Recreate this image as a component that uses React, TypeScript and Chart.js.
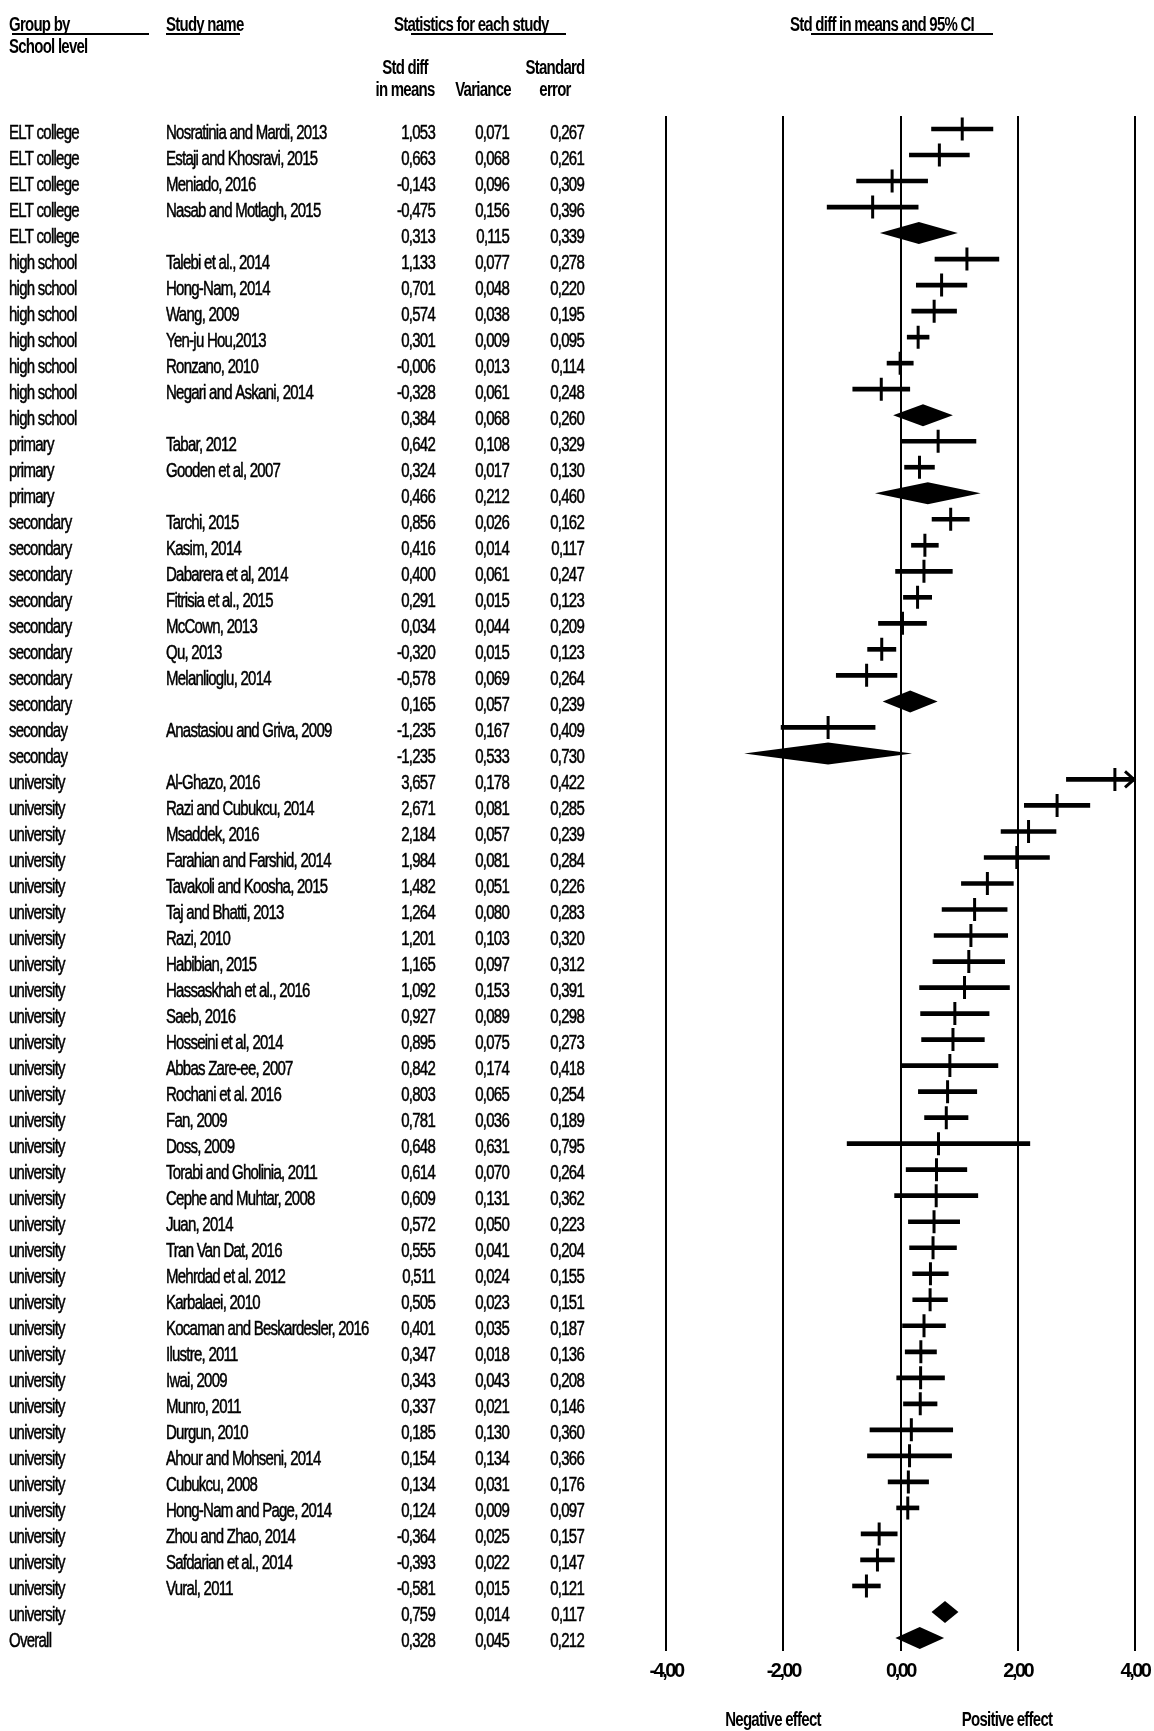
import React, { useEffect, useRef } from 'react';
import { Chart, registerables } from 'chart.js';

Chart.register(...registerables);

// ---------------- DATA ----------------
const groups: string[] = [
  'ELT college', 'ELT college', 'ELT college', 'ELT college', 'ELT college',
  'high school', 'high school', 'high school', 'high school', 'high school', 'high school', 'high school',
  'primary', 'primary', 'primary',
  'secondary', 'secondary', 'secondary', 'secondary', 'secondary', 'secondary', 'secondary', 'secondary',
  'seconday', 'seconday',
  'university', 'university', 'university', 'university', 'university', 'university', 'university', 'university',
  'university', 'university', 'university', 'university', 'university', 'university', 'university', 'university',
  'university', 'university', 'university', 'university', 'university', 'university', 'university', 'university',
  'university', 'university', 'university', 'university', 'university', 'university', 'university', 'university',
  'university',
  'Overall',
];

const studyNames: string[] = [
  'Nosratinia and Mardi, 2013', 'Estaji and Khosravi, 2015', 'Meniado, 2016', 'Nasab and Motlagh, 2015', '',
  'Talebi et al., 2014', 'Hong-Nam, 2014', 'Wang, 2009', 'Yen-ju Hou,2013', 'Ronzano, 2010', 'Negari and Askani, 2014', '',
  'Tabar, 2012', 'Gooden et al, 2007', '',
  'Tarchi, 2015', 'Kasim, 2014', 'Dabarera et al, 2014', 'Fitrisia et al., 2015', 'McCown, 2013', 'Qu, 2013', 'Melanlioglu, 2014', '',
  'Anastasiou and Griva, 2009', '',
  'Al-Ghazo, 2016', 'Razi and Cubukcu, 2014', 'Msaddek, 2016', 'Farahian and Farshid, 2014', 'Tavakoli and Koosha, 2015',
  'Taj and Bhatti, 2013', 'Razi, 2010', 'Habibian, 2015', 'Hassaskhah et al., 2016', 'Saeb, 2016', 'Hosseini et al, 2014',
  'Abbas Zare-ee, 2007', 'Rochani et al. 2016', 'Fan, 2009', 'Doss, 2009', 'Torabi and Gholinia, 2011', 'Cephe and Muhtar, 2008',
  'Juan, 2014', 'Tran Van Dat, 2016', 'Mehrdad et al. 2012', 'Karbalaei, 2010', 'Kocaman and Beskardesler, 2016', 'Ilustre, 2011',
  'Iwai, 2009', 'Munro, 2011', 'Durgun, 2010', 'Ahour and Mohseni, 2014', 'Cubukcu, 2008', 'Hong-Nam and Page, 2014',
  'Zhou and Zhao, 2014', 'Safdarian et al., 2014', 'Vural, 2011', '',
  '',
];

const stdDiff: number[] = [
  1.053, 0.663, -0.143, -0.475, 0.313,
  1.133, 0.701, 0.574, 0.301, -0.006, -0.328, 0.384,
  0.642, 0.324, 0.466,
  0.856, 0.416, 0.400, 0.291, 0.034, -0.320, -0.578, 0.165,
  -1.235, -1.235,
  3.657, 2.671, 2.184, 1.984, 1.482, 1.264, 1.201, 1.165, 1.092, 0.927, 0.895, 0.842, 0.803, 0.781, 0.648, 0.614,
  0.609, 0.572, 0.555, 0.511, 0.505, 0.401, 0.347, 0.343, 0.337, 0.185, 0.154, 0.134, 0.124, -0.364, -0.393, -0.581,
  0.759,
  0.328,
];

const variances: number[] = [
  0.071, 0.068, 0.096, 0.156, 0.115,
  0.077, 0.048, 0.038, 0.009, 0.013, 0.061, 0.068,
  0.108, 0.017, 0.212,
  0.026, 0.014, 0.061, 0.015, 0.044, 0.015, 0.069, 0.057,
  0.167, 0.533,
  0.178, 0.081, 0.057, 0.081, 0.051, 0.080, 0.103, 0.097, 0.153, 0.089, 0.075, 0.174, 0.065, 0.036, 0.631, 0.070,
  0.131, 0.050, 0.041, 0.024, 0.023, 0.035, 0.018, 0.043, 0.021, 0.130, 0.134, 0.031, 0.009, 0.025, 0.022, 0.015,
  0.014,
  0.045,
];

const stdErrors: number[] = [
  0.267, 0.261, 0.309, 0.396, 0.339,
  0.278, 0.220, 0.195, 0.095, 0.114, 0.248, 0.260,
  0.329, 0.130, 0.460,
  0.162, 0.117, 0.247, 0.123, 0.209, 0.123, 0.264, 0.239,
  0.409, 0.730,
  0.422, 0.285, 0.239, 0.284, 0.226, 0.283, 0.320, 0.312, 0.391, 0.298, 0.273, 0.418, 0.254, 0.189, 0.795, 0.264,
  0.362, 0.223, 0.204, 0.155, 0.151, 0.187, 0.136, 0.208, 0.146, 0.360, 0.366, 0.176, 0.097, 0.157, 0.147, 0.121,
  0.117,
  0.212,
];

const xTickValues: number[] = [-4, -2, 0, 2, 4];
const xTickLabels: string[] = ['-4,00', '-2,00', '0,00', '2,00', '4,00'];

// ---------------- DERIVED ----------------
const Z = 1.96;
const X_MIN = -4;
const X_MAX = 4;
const rowIds = groups.map((_, i) => String(i));
const isSummary = studyNames.map((n) => n === '');
const lower = stdDiff.map((v, i) => v - Z * stdErrors[i]);
const upper = stdDiff.map((v, i) => v + Z * stdErrors[i]);
const fmt = (v: number) => v.toFixed(3).replace('.', ',');

const FAMILY = '"Liberation Sans", Arial, sans-serif';
const FONT_SIZE = 20;
const SX = 0.75; // horizontal squeeze of the narrow typeface
const SPACING = '-1px';

// columns (pixel layout)
const COL_GROUP = 9;
const COL_STUDY = 166;
const COL_SMD = 435;
const COL_VAR = 509;
const COL_SE = 584;

function drawText(
  ctx: CanvasRenderingContext2D,
  text: string,
  x: number,
  y: number,
  align: CanvasTextAlign,
  bold = false
) {
  ctx.save();
  ctx.font = `${bold ? 'bold ' : ''}${FONT_SIZE}px ${FAMILY}`;
  (ctx as any).letterSpacing = SPACING;
  ctx.textAlign = align;
  ctx.textBaseline = 'alphabetic';
  ctx.fillStyle = '#000';
  ctx.strokeStyle = '#000';
  ctx.lineWidth = 0.5;
  ctx.translate(x, y);
  ctx.scale(SX, 1);
  ctx.fillText(text, 0, 0);
  if (!bold) ctx.strokeText(text, 0, 0);
  ctx.restore();
}

const tablePlugin = {
  id: 'forestTable',
  beforeDraw(chart: any) {
    const ctx = chart.ctx;
    ctx.save();
    ctx.fillStyle = '#ffffff';
    ctx.fillRect(0, 0, chart.width, chart.height);
    ctx.restore();
    (ctx as any).letterSpacing = '-2.5px';
  },
  afterDraw(chart: any) {
    const ctx = chart.ctx as CanvasRenderingContext2D;
    const ys = chart.scales.y;
    for (let i = 0; i < groups.length; i++) {
      const py = ys.getPixelForValue(i) + 9.5;
      drawText(ctx, groups[i], COL_GROUP, py, 'left');
      if (studyNames[i]) drawText(ctx, studyNames[i], COL_STUDY, py, 'left');
      drawText(ctx, fmt(stdDiff[i]), COL_SMD, py, 'right');
      drawText(ctx, fmt(variances[i]), COL_VAR, py, 'right');
      drawText(ctx, fmt(stdErrors[i]), COL_SE, py, 'right');
    }

    // headers
    drawText(ctx, 'Group by', COL_GROUP, 31, 'left', true);
    drawText(ctx, 'School level', COL_GROUP, 53, 'left', true);
    drawText(ctx, 'Study name', COL_STUDY, 31, 'left', true);
    drawText(ctx, 'Statistics for each study', 394, 31, 'left', true);
    drawText(ctx, 'Std diff in means and 95% CI', 790, 31, 'left', true);
    drawText(ctx, 'Std diff', 405, 74, 'center', true);
    drawText(ctx, 'in means', 405, 96, 'center', true);
    drawText(ctx, 'Variance', 483, 96, 'center', true);
    drawText(ctx, 'Standard', 555, 74, 'center', true);
    drawText(ctx, 'error', 555, 96, 'center', true);
    drawText(ctx, 'Negative effect', 773, 1726, 'center', true);
    drawText(ctx, 'Positive effect', 1007, 1726, 'center', true);

    // underlines
    ctx.save();
    ctx.strokeStyle = '#000';
    ctx.lineWidth = 2;
    const ul = (x1: number, x2: number, y: number) => {
      ctx.beginPath();
      ctx.moveTo(x1, y);
      ctx.lineTo(x2, y);
      ctx.stroke();
    };
    ul(12, 149, 34);
    ul(166, 240, 34);
    ul(411, 566, 34);
    ul(811, 993, 34);
    ctx.restore();
  },
  afterDatasetsDraw(chart: any) {
    const ctx = chart.ctx as CanvasRenderingContext2D;
    const xs = chart.scales.x;
    const ys = chart.scales.y;
    ctx.save();
    ctx.fillStyle = '#000';
    ctx.strokeStyle = '#000';
    for (let i = 0; i < groups.length; i++) {
      const py = ys.getPixelForValue(i);
      if (isSummary[i]) {
        const xl = xs.getPixelForValue(Math.max(lower[i], X_MIN));
        const xc = xs.getPixelForValue(stdDiff[i]);
        const xr = xs.getPixelForValue(Math.min(upper[i], X_MAX));
        ctx.beginPath();
        ctx.moveTo(xl, py);
        ctx.lineTo(xc, py - 11);
        ctx.lineTo(xr, py);
        ctx.lineTo(xc, py + 11);
        ctx.closePath();
        ctx.fill();
      } else if (upper[i] > X_MAX) {
        const xr = xs.getPixelForValue(X_MAX);
        ctx.lineWidth = 3;
        ctx.beginPath();
        ctx.moveTo(xr - 10, py - 8);
        ctx.lineTo(xr - 1, py);
        ctx.lineTo(xr - 10, py + 8);
        ctx.stroke();
      }
    }
    ctx.restore();
  },
};

export default function App() {
  const canvasRef = useRef<HTMLCanvasElement | null>(null);

  useEffect(() => {
    if (!canvasRef.current) return;
    const ciData = rowIds.map((_, i) =>
      isSummary[i] ? null : [Math.max(lower[i], X_MIN), Math.min(upper[i], X_MAX)]
    );
    const pointData = rowIds
      .map((id, i) => (isSummary[i] ? null : { x: stdDiff[i], y: id }))
      .filter((p) => p !== null);

    const chart = new Chart(canvasRef.current, {
      type: 'bar',
      data: {
        labels: rowIds,
        datasets: [
          {
            type: 'scatter',
            data: pointData as any,
            pointStyle: 'line',
            rotation: 90,
            radius: 11.5,
            borderWidth: 3,
            borderColor: '#000',
            backgroundColor: '#000',
            order: 0,
          } as any,
          {
            type: 'bar',
            data: ciData as any,
            backgroundColor: '#000',
            borderWidth: 0,
            barThickness: 4,
            order: 1,
          } as any,
        ],
      },
      options: {
        indexAxis: 'y',
        animation: false,
        responsive: false,
        devicePixelRatio: 1,
        events: [],
        layout: { padding: { left: 666, right: 19, top: 116, bottom: 0 } },
        plugins: { legend: { display: false }, tooltip: { enabled: false } },
        scales: {
          x: {
            type: 'linear',
            position: 'bottom',
            min: X_MIN,
            max: X_MAX,
            afterFit: (scale: any) => {
              scale.height = 80;
              scale.paddingLeft = 0;
              scale.paddingRight = 0;
            },
            afterBuildTicks: (scale: any) => {
              scale.ticks = xTickValues.map((v) => ({ value: v }));
            },
            grid: { color: '#000', lineWidth: 2, drawTicks: false },
            border: { display: false },
            ticks: {
              color: '#000',
              padding: 8,
              autoSkip: false,
              maxRotation: 0,
              font: { family: FAMILY, size: FONT_SIZE, weight: 'bold' },
              callback: (v: any) => {
                const k = xTickValues.indexOf(Number(v));
                return k >= 0 ? xTickLabels[k] : '';
              },
            },
          },
          y: {
            type: 'category',
            labels: rowIds,
            offset: true,
            display: false,
            grid: { display: false },
          },
        },
      } as any,
      plugins: [tablePlugin],
    });
    return () => chart.destroy();
  }, []);

  return (
    <div style={{ position: 'absolute', left: 0, top: 0, width: 1154, height: 1731, background: '#fff' }}>
      <canvas ref={canvasRef} width={1154} height={1731} style={{ display: 'block', width: 1154, height: 1731 }} />
    </div>
  );
}
